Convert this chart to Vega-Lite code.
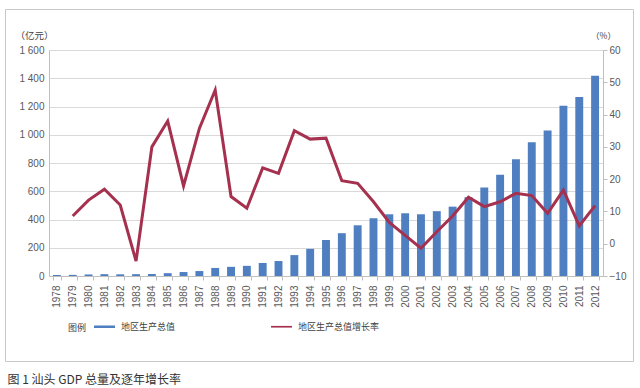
{
  "$schema": "https://vega.github.io/schema/vega-lite/v6.json",
  "width": 554,
  "height": 226,
  "autosize": "none",
  "padding": {"left": 49, "top": 50, "right": 37, "bottom": 112},
  "background": "white",
  "config": {
    "font": "Noto Sans CJK SC",
    "view": {"stroke": null},
    "axis": {"labelFont": "Liberation Sans", "labelColor": "#595959", "labelFontSize": 10, "domainColor": "#bfbfbf", "tickColor": "#bfbfbf", "gridColor": "#d9d9d9"}
  },
  "data": {
    "values": [
      {"year": "1978", "gdp": 7, "rate": null},
      {"year": "1979", "gdp": 8, "rate": 8.6},
      {"year": "1980", "gdp": 11, "rate": 13.5},
      {"year": "1981", "gdp": 13, "rate": 16.9},
      {"year": "1982", "gdp": 12, "rate": 12},
      {"year": "1983", "gdp": 13, "rate": -5.4},
      {"year": "1984", "gdp": 14, "rate": 30.0},
      {"year": "1985", "gdp": 20, "rate": 38.0},
      {"year": "1986", "gdp": 28, "rate": 17.9},
      {"year": "1987", "gdp": 35, "rate": 35.7},
      {"year": "1988", "gdp": 57, "rate": 47.6},
      {"year": "1989", "gdp": 65, "rate": 14.6},
      {"year": "1990", "gdp": 72, "rate": 11.0},
      {"year": "1991", "gdp": 92, "rate": 23.5},
      {"year": "1992", "gdp": 106, "rate": 21.8},
      {"year": "1993", "gdp": 148, "rate": 35.0},
      {"year": "1994", "gdp": 192, "rate": 32.4},
      {"year": "1995", "gdp": 255, "rate": 32.7},
      {"year": "1996", "gdp": 303, "rate": 19.5},
      {"year": "1997", "gdp": 359, "rate": 18.7},
      {"year": "1998", "gdp": 409, "rate": 13.0},
      {"year": "1999", "gdp": 437, "rate": 6.6},
      {"year": "2000", "gdp": 444, "rate": 2.6},
      {"year": "2001", "gdp": 437, "rate": -1.4},
      {"year": "2002", "gdp": 459, "rate": 3.7},
      {"year": "2003", "gdp": 491, "rate": 8.6},
      {"year": "2004", "gdp": 558, "rate": 14.4},
      {"year": "2005", "gdp": 626, "rate": 11.5},
      {"year": "2006", "gdp": 716, "rate": 13.0},
      {"year": "2007", "gdp": 827, "rate": 15.6},
      {"year": "2008", "gdp": 947, "rate": 14.9},
      {"year": "2009", "gdp": 1030, "rate": 9.4},
      {"year": "2010", "gdp": 1205, "rate": 16.6},
      {"year": "2011", "gdp": 1267, "rate": 5.5},
      {"year": "2012", "gdp": 1418, "rate": 11.8}
    ]
  },
  "encoding": {
    "x": {
      "field": "year",
      "type": "ordinal",
      "scale": {"paddingInner": 0.5, "paddingOuter": 0.25},
      "axis": {
        "title": "图 1 汕头 GDP 总量及逐年增长率",
        "titleX": -42,
        "titleY": 98,
        "titleAlign": "left",
        "titleAnchor": null,
        "titleBaseline": "top",
        "titleFontSize": 12,
        "titleFontWeight": "normal",
        "titleColor": "#333333",
        "titleFont": "Noto Sans CJK SC",
        "labelAngle": 270,
        "labelAlign": "right",
        "labelBaseline": "middle",
        "labelPadding": 5,
        "tickBand": "extent",
        "ticks": true,
        "tickSize": 4,
        "domainColor": "#bfbfbf"
      }
    }
  },
  "layer": [
    {
      "mark": {"type": "bar"},
      "encoding": {
        "y": {
          "field": "gdp",
          "type": "quantitative",
          "scale": {"domain": [0, 1600], "nice": false},
          "axis": {
            "values": [0, 200, 400, 600, 800, 1000, 1200, 1400, 1600],
            "labelExpr": "replace(format(datum.value, ','), ',', ' ')",
            "grid": true,
            "ticks": false,
            "labelPadding": 5,
            "title": "（亿元）",
            "titleAngle": 0,
            "titleX": -34,
            "titleY": -15,
            "titleAlign": "left",
            "titleBaseline": "middle",
            "titleFontSize": 9.5,
            "titleFontWeight": "normal",
            "titleColor": "#404040"
          }
        },
        "color": {
          "datum": "地区生产总值",
          "scale": {"domain": ["地区生产总值", "地区生产总值增长率"], "range": ["#4f7fc0", "#a5314f"]},
          "legend": {
            "orient": "none",
            "legendX": 19,
            "legendY": 266,
            "direction": "horizontal",
            "title": "图例",
            "titleOrient": "left",
            "titleAnchor": "middle",
            "titleBaseline": "middle",
            "titleFontSize": 9,
            "titleFontWeight": "normal",
            "titleColor": "#404040",
            "titlePadding": 7,
            "labelFontSize": 9,
            "labelColor": "#404040",
            "labelOffset": 6,
            "columnPadding": 95,
            "symbolSize": 441,
            "symbolStrokeWidth": 0,
            "encode": {
              "title": {
                "update": {"dy": {"value": 4}}
              },
              "symbols": {
                "update": {
                  "shape": {"signal": "datum.value === '地区生产总值' ? 'M-1,-0.12H1V0.12H-1Z' : 'M-1,-0.08H1V0.08H-1Z'"},
                  "fill": {"signal": "scale('color', datum.value)"},
                  "strokeWidth": {"value": 0}
                }
              }
            }
          }
        }
      }
    },
    {
      "mark": {"type": "line", "strokeWidth": 3, "strokeJoin": "miter"},
      "encoding": {
        "y": {
          "field": "rate",
          "type": "quantitative",
          "scale": {"domain": [-10, 60], "nice": false},
          "axis": {
            "orient": "right",
            "values": [-10, 0, 10, 20, 30, 40, 50, 60],
            "grid": false,
            "ticks": true,
            "tickSize": 4,
            "labelPadding": 2,
            "title": "（%）",
            "titleAngle": 0,
            "titleX": 0,
            "titleY": -15,
            "titleAlign": "center",
            "titleBaseline": "middle",
            "titleFontSize": 8.5,
            "titleFontWeight": "normal",
            "titleColor": "#404040"
          }
        },
        "color": {"datum": "地区生产总值增长率"}
      }
    },
    {
      "data": {"values": []},
      "mark": {"type": "point", "size": 1, "strokeOpacity": 0, "fillOpacity": 0},
      "encoding": {
        "opacity": {
          "datum": "frame",
          "scale": {"domain": ["frame"], "range": [0]},
          "legend": {
            "orient": "none",
            "legendX": -44,
            "legendY": -41,
            "title": null,
            "padding": 10,
            "strokeColor": "#c8c8c8",
            "labelExpr": "''",
            "labelFontSize": 1,
            "labelOffset": 0,
            "symbolSize": 110224,
            "symbolType": "M-1,-1H2.657V1H-1Z",
            "symbolFillColor": "transparent",
            "symbolStrokeColor": "transparent",
            "symbolStrokeWidth": 0,
            "symbolOpacity": 0
          }
        }
      }
    }
  ],
  "resolve": {"scale": {"y": "independent"}}
}
